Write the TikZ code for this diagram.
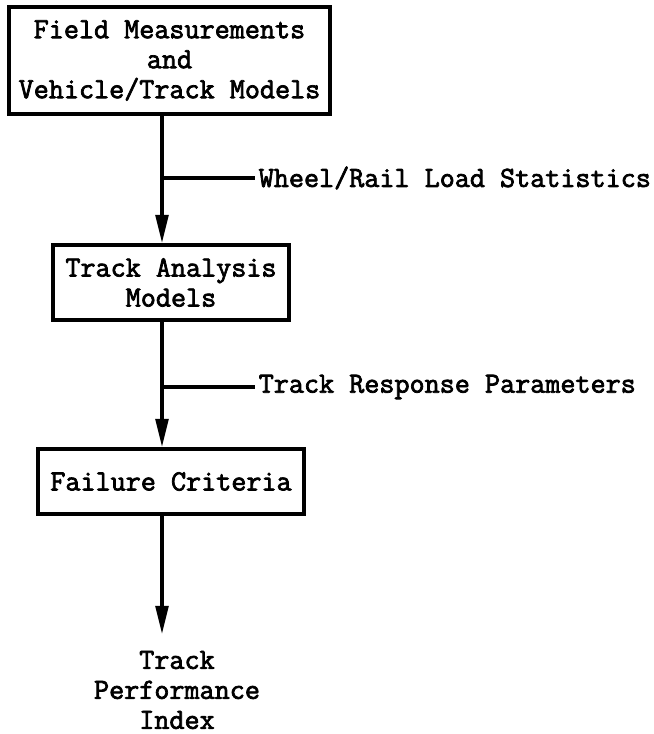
\documentclass[tikz,border=0pt]{standalone}
\usepackage{fontspec}
\newfontfamily\typew[FakeBold=2.5]{Latin Modern Mono}
\usetikzlibrary{positioning, arrows.meta, calc}

\begin{document}
\begin{tikzpicture}[
          blk/.style={rectangle, draw, line width=3pt, inner sep=0pt,
                      align=center,
                      font=\typew\fontsize{25}{25.6}\selectfont},
          lbl/.style={anchor=west, inner sep=3pt,
                      font=\typew\fontsize{25}{25.6}\selectfont},
          flow/.style={line width=3pt,
                       -{Triangle[length=0.85cm, width=0.38cm]}},
          tap/.style={line width=3pt}
        ]
        \useasboundingbox (0, 0) rectangle (19.59, 22.02);

        % Boxes
        \node[blk, minimum width=9.63cm, minimum height=3.21cm]
              (fld) at (5.085, 20.205)
              {Field Measurements\\and\\Vehicle/Track Models};
        \node[blk, minimum width=7.08cm, minimum height=2.25cm]
              (tam) at (5.13, 13.545) {Track Analysis\\Models};
        \node[blk, minimum width=7.98cm, minimum height=1.95cm]
              (fcr) at (5.13, 7.575) {Failure Criteria};
        \node[blk, draw=none] (tpi) at (5.31, 1.32)
              {Track\\Performance\\Index};

        % Spine of the flow
        \coordinate (spine) at (4.86, 0);

        % Side labels
        \node[lbl] (wrl) at (7.65, 16.68) {Wheel/Rail Load Statistics};
        \node[lbl] (trp) at (7.65, 10.41) {Track Response Parameters};

        % Arrows
        \draw[flow] (fld.south -| spine) -- (tam.north -| spine);
        \draw[flow] (tam.south -| spine) -- (fcr.north -| spine);
        \draw[flow] (fcr.south -| spine)
              -- ($(tpi.north -| spine) + (0, 0.45)$);

        % Taps to the labels
        \draw[tap] (wrl.west -| spine) -- (wrl.west);
        \draw[tap] (trp.west -| spine) -- (trp.west);
      \end{tikzpicture}
\end{document}
